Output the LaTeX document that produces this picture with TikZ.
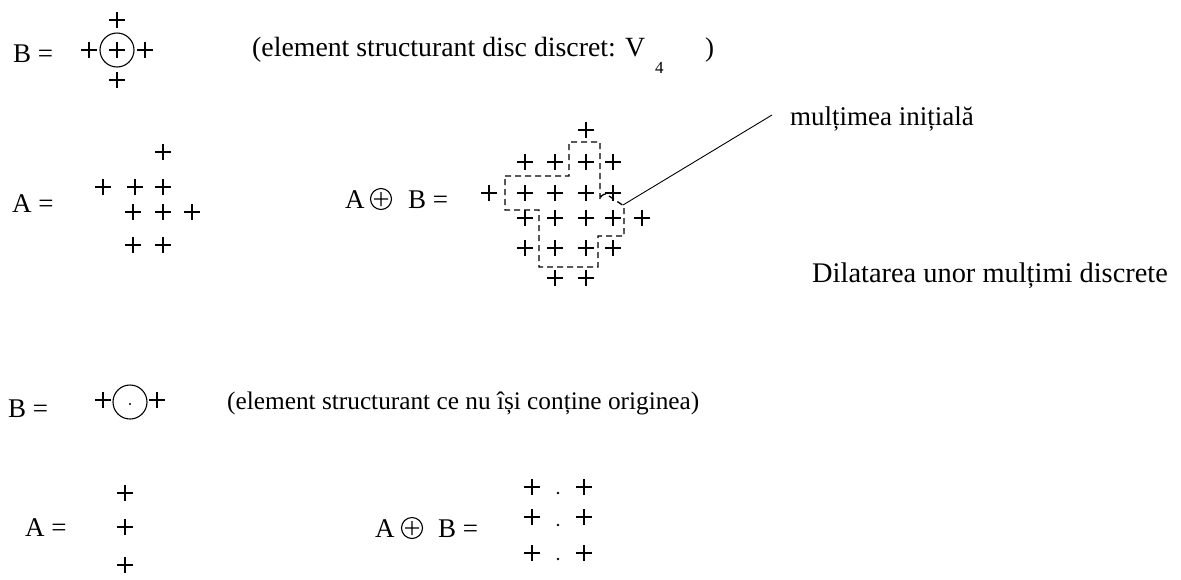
\documentclass[tikz,border=0pt]{standalone}
\usepackage{fontspec}
\setmainfont{Liberation Serif}
\begin{document}
\begin{tikzpicture}[x=1pt,y=-1pt,
  txt/.style={anchor=base west, inner sep=0pt, font=\fontsize{27}{31}\selectfont},
  subtxt/.style={anchor=base west, inner sep=0pt, font=\fontsize{17}{20}\selectfont},
  plusline/.style={line width=1.5pt},
  ring/.style={line width=1.1pt},
  opline/.style={line width=1.1pt},
  outline/.style={line width=1.3pt, dash pattern=on 6pt off 4pt},
  leader/.style={line width=0.9pt},
  pl/.pic={\draw[plusline] (-8,0) -- (8,0) (0,-8) -- (0,8);},
  oplus/.pic={\draw[opline] (0,0) circle[radius=10.5pt] (-7,0) -- (7,0) (0,-7) -- (0,7);}
]
\useasboundingbox (0,0) rectangle (1181,579);

% ---- first example ----
\node[txt] (b1) at (13,62) {B =};
\draw[ring] (117,50) circle[radius=17pt];
\foreach \p in {(117,50),(89,50),(145,50),(117,20),(117,80)} \pic at \p {pl};
\node[txt, font=\fontsize{27.8}{31}\selectfont] (d1) at (252,56) {(element structurant disc discret: V};
\node[subtxt] (s4) at (655,73) {4};
\node[txt] (d1b) at (705,56) {)};

\node[txt] (a1) at (12,212) {A =};
\foreach \p in {(163,152),(103,187),(135,187),(163,187),(133,212),(163,212),(192,212),(133,245),(163,245)} \pic at \p {pl};

\node[txt] (a1l) at (345,208) {A};
\pic at (381,199) {oplus};
\node[txt] (a1r) at (408,208) {B =};
\foreach \p in {(586,130),
  (525,162),(555,162),(586,162),(613,162),
  (489,193),(525,193),(555,193),(586,193),(613,193),
  (525,218),(555,218),(586,218),(613,218),(642,218),
  (525,248),(555,248),(586,248),(613,248),
  (555,278),(586,278)} \pic at \p {pl};
\draw[outline] (505,176) -- (569,176) -- (569,142) -- (600,142) -- (600,200)
  arc[start angle=180, end angle=90, radius=6pt] -- (624,206) -- (624,236) -- (598,236)
  -- (598,267) -- (539,267) -- (539,210) -- (505,210) -- cycle;
\coordinate (ls) at (623,205);
\coordinate (le) at (772,115);
\draw[leader] (ls) -- (le);
\node[txt] (mi) at (790,125) {mulțimea inițială};
\node[txt, font=\fontsize{28.4}{32}\selectfont] (dil) at (812,282) {Dilatarea unor mulțimi discrete};

% ---- second example ----
\node[txt] (b2) at (8,417) {B =};
\draw[ring] (130,402) circle[radius=17pt];
\fill (130,404) circle[radius=1.2pt];
\foreach \p in {(103,400),(157,400)} \pic at \p {pl};
\node[txt, font=\fontsize{25.3}{30}\selectfont] (d2) at (227,409) {(element structurant ce nu își conține originea)};

\node[txt] (a2) at (25,536) {A =};
\foreach \p in {(125,493),(125,527),(125,565)} \pic at \p {pl};

\node[txt] (a2l) at (375,537) {A};
\pic at (412,528) {oplus};
\node[txt] (a2r) at (438,537) {B =};
\foreach \p in {(532,487),(532,517),(532,553),(584,487),(584,517),(584,553)} \pic at \p {pl};
\foreach \p in {(558,493),(558,525),(558,559)} \fill \p circle[radius=1.3pt];
\end{tikzpicture}
\end{document}
